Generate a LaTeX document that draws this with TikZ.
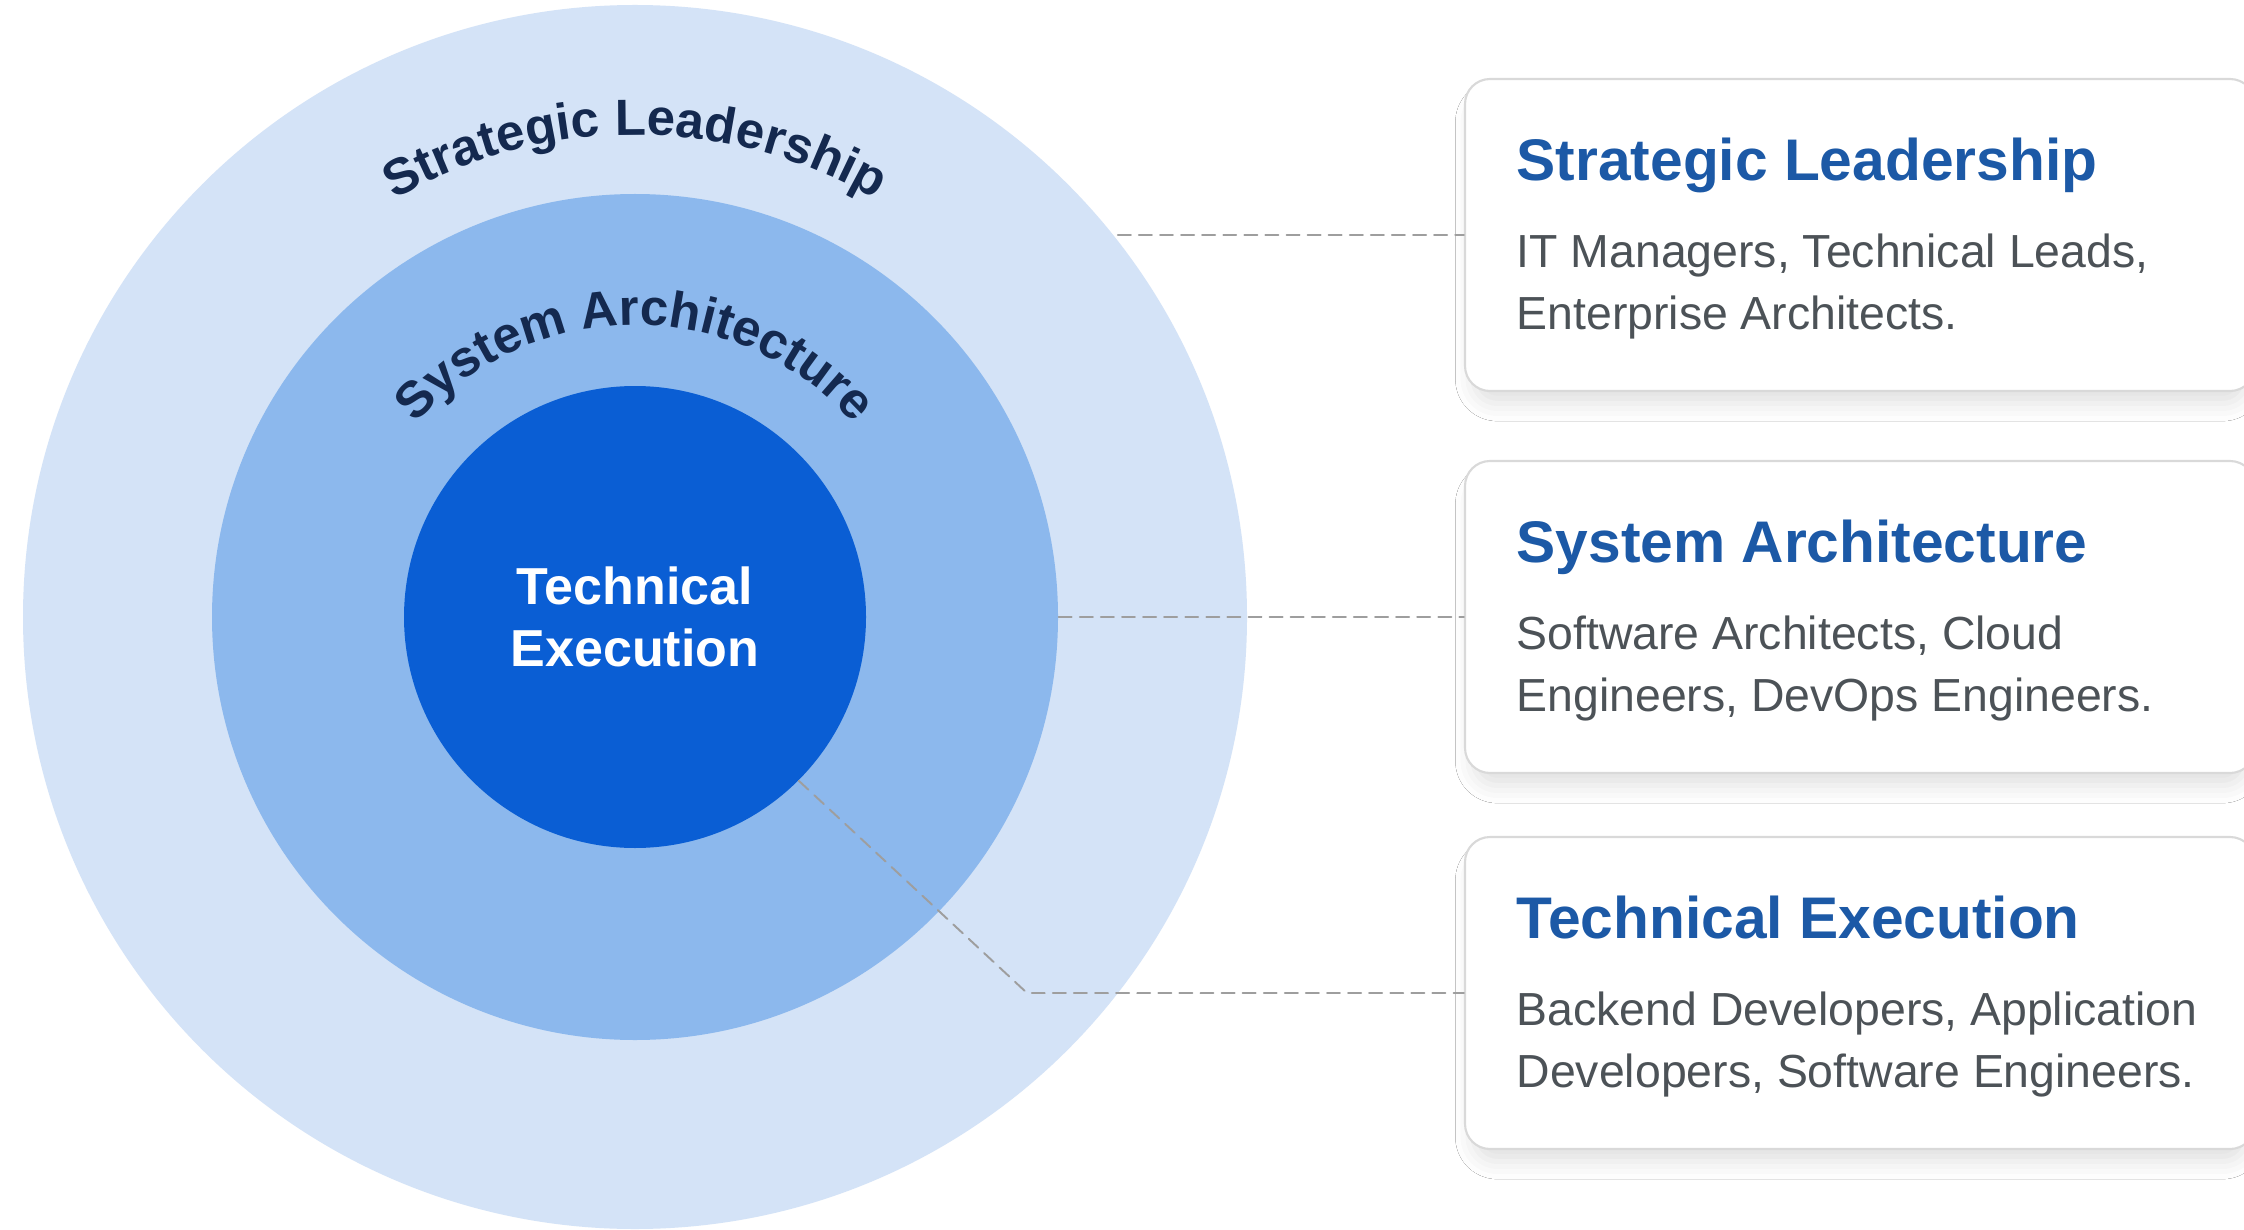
\documentclass[tikz,border=0pt]{standalone}
\usepackage{fontspec}
\setmainfont{Liberation Sans}
\usepackage{tikz}
\usetikzlibrary{decorations.text}
\usetikzlibrary{shadows.blur}
\definecolor{ringout}{rgb}{0.83,0.89,0.97}
\definecolor{ringmid}{rgb}{0.55,0.72,0.93}
\definecolor{ringin}{rgb}{0.04,0.37,0.83}
\definecolor{navy}{rgb}{0.08,0.16,0.31}
\definecolor{titleblue}{rgb}{0.11,0.35,0.65}
\definecolor{bodygray}{rgb}{0.3,0.32,0.34}
\definecolor{dashgray}{rgb}{0.62,0.62,0.62}
\definecolor{cardline}{rgb}{0.85,0.85,0.85}

\begin{document}
\begin{tikzpicture}[line cap=round,line join=round,x=1.0cm,y=1.0cm,
  ring/.style={circle,inner sep=0pt},
  card/.style={draw=cardline,line width=0.6pt,fill=white,rounded corners=0.25cm,minimum width=7.9cm,minimum height=3.12cm,
    blur shadow={shadow xshift=0cm,shadow yshift=-0.16cm,shadow scale=0.98,shadow blur radius=0.18cm,shadow opacity=12}},
  cardtitle/.style={anchor=base west,inner sep=0pt,text=titleblue,font=\bfseries\fontsize{16.7}{20}\selectfont},
  cardbody/.style={anchor=north west,inner sep=0pt,align=left,text=bodygray,font=\fontsize{13.2}{17.6}\selectfont},
  link/.style={dashgray,line width=0.55pt,dash pattern=on 3.7pt off 2.3pt},
  arctext/.style={decorate,decoration={text along path,text align=center,text color=navy,
    text={|\bfseries\fontsize{14.5}{17}\selectfont|#1}}}]
\clip (0,0) rectangle (22.44,12.29);
\fill[white] (0,0) rectangle (22.44,12.29);
\node[ring,fill=ringout,minimum size=12.24cm] (outer) at (6.35,6.12) {};
\node[ring,fill=ringmid,minimum size=8.46cm] (middle) at (6.35,6.12) {};
\node[ring,fill=ringin,minimum size=4.62cm,text=white,align=center,font=\bfseries\fontsize{14.8}{17.6}\selectfont] (inner) at (6.35,6.12) {Technical\\Execution};
\path[arctext={Strategic Leadership}] ([shift={(150:4.82)}]outer.center) arc[start angle=150,end angle=30,radius=4.82];
\path[arctext={System Architecture}] ([shift={(150:2.92)}]middle.center) arc[start angle=150,end angle=30,radius=2.92];
\node[card] (lead) at (18.60,9.94) {};
\node[card] (arch) at (18.60,6.12) {};
\node[card] (exec) at (18.60,2.36) {};
\node[cardtitle] (leadtitle) at ([shift={(0.52,-1.03)}]lead.north west) {Strategic Leadership};
\node[cardbody] (leadbody) at ([shift={(0.52,-1.55)}]lead.north west) {IT Managers, Technical Leads,\\Enterprise Architects.};
\node[cardtitle] (archtitle) at ([shift={(0.52,-1.03)}]arch.north west) {System Architecture};
\node[cardbody] (archbody) at ([shift={(0.52,-1.55)}]arch.north west) {Software Architects, Cloud\\Engineers, DevOps Engineers.};
\node[cardtitle] (exectitle) at ([shift={(0.52,-1.03)}]exec.north west) {Technical Execution};
\node[cardbody] (execbody) at ([shift={(0.52,-1.55)}]exec.north west) {Backend Developers, Application\\Developers, Software Engineers.};
\coordinate (bend) at (10.27,2.36);
\draw[link] (lead.west -| outer.38.6) -- (lead.west);
\draw[link] (middle.east) -- (arch.west);
\draw[link] (inner.-45) -- (bend) -- (exec.west);
\end{tikzpicture}
\end{document}
